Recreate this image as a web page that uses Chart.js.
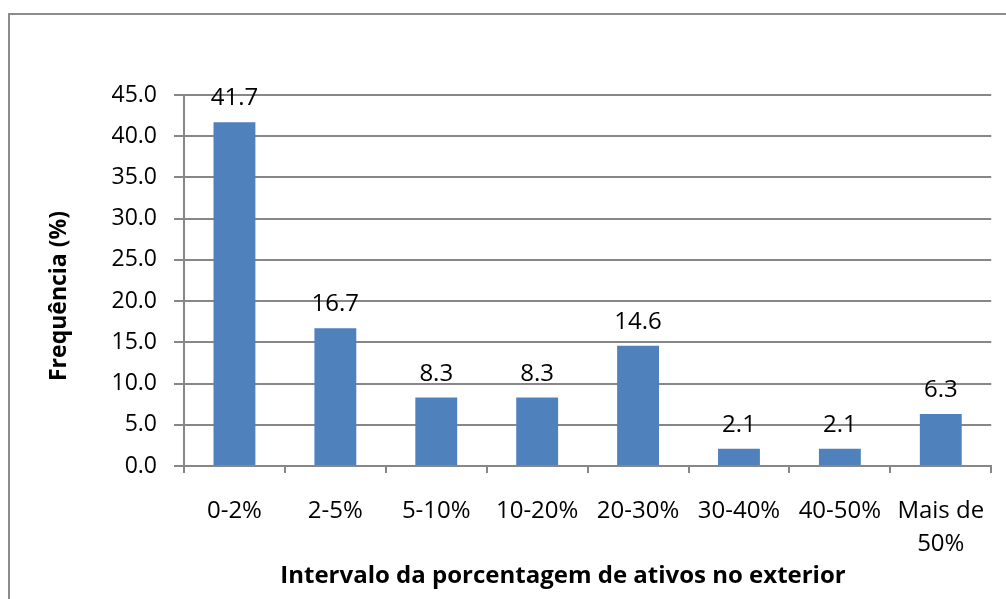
<!DOCTYPE html>
<html>
<head>
<meta charset="utf-8">
<script src="https://cdn.jsdelivr.net/npm/chart.js@4/dist/chart.umd.min.js"></script>
<style>
  html, body { margin: 0; padding: 0; background: #fff; }
  #wrap { width: 1006px; height: 599px; position: relative; }
</style>
</head>
<body>
<div id="wrap"><canvas id="c" width="1006" height="599"></canvas></div>
<script>
const categories = ['0-2%', '2-5%', '5-10%', '10-20%', '20-30%', '30-40%', '40-50%', ['Mais de', '50%']];
const frequencies = [41.7, 16.7, 8.3, 8.3, 14.6, 2.1, 2.1, 6.3];
const yTicks = [0, 5, 10, 15, 20, 25, 30, 35, 40, 45];
const xTitle = 'Intervalo da porcentagem de ativos no exterior';
const yTitle = 'Frequência (%)';

const FONT = '"Open Sans", sans-serif';
const GRID = '#878787';

// frame around the chart area, value labels and axis titles
const decor = {
  id: 'decor',
  beforeDraw(chart) {
    const ctx = chart.ctx;
    ctx.save();
    ctx.fillStyle = '#fff';
    ctx.fillRect(0, 0, chart.width, chart.height);
    ctx.strokeStyle = '#8c8c8c';
    ctx.lineWidth = 2;
    ctx.strokeRect(9, 14, chart.width + 20, chart.height + 20);
    ctx.restore();
  },
  afterDatasetsDraw(chart) {
    const ctx = chart.ctx;
    const meta = chart.getDatasetMeta(0);
    ctx.save();
    ctx.fillStyle = '#000';
    ctx.font = '24px ' + FONT;
    ctx.textAlign = 'center';
    ctx.textBaseline = 'alphabetic';
    meta.data.forEach((bar, i) => {
      ctx.fillText(frequencies[i].toFixed(1), bar.x, bar.y - 17);
    });

    ctx.font = 'bold 24px ' + FONT;
    ctx.textBaseline = 'middle';
    ctx.fillText(xTitle, 563, 576);

    ctx.font = 'bold 23px ' + FONT;
    ctx.translate(59, 296);
    ctx.rotate(-Math.PI / 2);
    ctx.fillText(yTitle, 0, 0);
    ctx.restore();
  }
};

new Chart(document.getElementById('c'), {
  type: 'bar',
  data: {
    labels: categories,
    datasets: [{
      data: frequencies,
      backgroundColor: '#4f81bd',
      borderWidth: 0,
      categoryPercentage: 1,
      barPercentage: 0.415
    }]
  },
  options: {
    responsive: false,
    animation: false,
    events: [],
    layout: { padding: { top: 95, right: 13, left: 0, bottom: 0 } },
    plugins: { legend: { display: false }, tooltip: { enabled: false } },
    scales: {
      x: {
        offset: true,
        grid: {
          display: true,
          offset: true,
          drawOnChartArea: false,
          drawTicks: true,
          tickLength: 7,
          color: GRID,
          lineWidth: 2
        },
        border: { display: true, color: GRID, width: 2 },
        ticks: {
          color: '#000',
          font: { family: FONT, size: 24, lineHeight: 1.4 },
          padding: 21,
          maxRotation: 0,
          autoSkip: false
        },
        afterFit(scale) { scale.height = 133; }
      },
      y: {
        min: 0,
        max: 45,
        afterBuildTicks(scale) { scale.ticks = yTicks.map(v => ({ value: v })); },
        grid: {
          color: GRID,
          lineWidth: 2,
          tickLength: 10
        },
        border: { display: true, color: GRID, width: 2 },
        ticks: {
          color: '#000',
          font: { family: FONT, size: 23 },
          padding: 17,
          callback: v => Number(v).toFixed(1)
        },
        afterFit(scale) { scale.width = 184; }
      }
    }
  },
  plugins: [decor]
});
</script>
</body>
</html>
